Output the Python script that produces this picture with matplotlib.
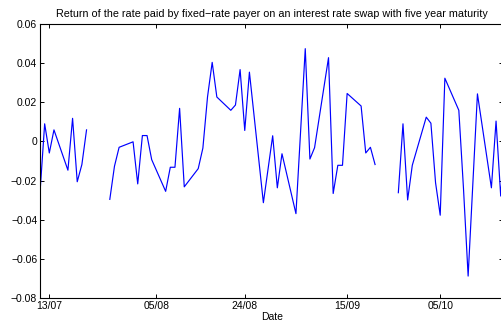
import numpy as np
import pandas as pd
import matplotlib
matplotlib.use('Agg')
import matplotlib.pyplot as plt
import matplotlib.dates as mdates
from matplotlib.ticker import FuncFormatter

plt.rcParams['font.family'] = ['Liberation Sans', 'DejaVu Sans']

# business days 11/07/2006 .. 19/10/2006, nan = missing quote
start_date = '2006-07-11'
end_date = '2006-10-19'
nan = np.nan
returns = [
    -0.0262, 0.0090, -0.0059, 0.0059,
    -0.0147, 0.0118, -0.0206, -0.0118, 0.0059,
    nan, nan, -0.0296, -0.0127, -0.0030,
    -0.0002, -0.0217, 0.0030, 0.0030, -0.0093,
    -0.0255, -0.0132, -0.0132, 0.0169, -0.0232,
    -0.0139, -0.0034, 0.0228, 0.0404, 0.0227,
    0.0159, 0.0186, 0.0367, 0.0056, 0.0354,
    -0.0313, -0.0142, 0.0029, -0.0237, -0.0063,
    -0.0369, 0.0052, 0.0474, -0.0090, -0.0032,
    0.0428, -0.0266, -0.0122, -0.0122, 0.0245,
    0.0181, -0.0059, -0.0030, -0.0118, nan,
    nan, -0.0262, 0.0090, -0.0299, -0.0122,
    0.0124, 0.0093, -0.0211, -0.0377, 0.0323,
    0.0159, -0.0240, -0.0688, -0.0222, 0.0243,
    -0.0237, 0.0104, -0.0279, 0.0040,
]
tick_dates = ['2006-07-13', '2006-08-05', '2006-08-24', '2006-09-15', '2006-10-05']
y_ticks = [-0.08, -0.06, -0.04, -0.02, 0, 0.02, 0.04, 0.06]

dates = pd.bdate_range(start_date, end_date)

fig = plt.figure(figsize=(5.02, 3.29), dpi=100)
ax = fig.add_axes([40 / 502, 31 / 329, 463.5 / 502, 274 / 329])

ax.plot(dates, returns, color='blue', lw=0.85)

x0 = mdates.date2num(dates[0])
ax.set_xlim(x0, x0 + 99.6)
ax.set_ylim(-0.08, 0.06)

ax.set_xticks([mdates.date2num(pd.Timestamp(d)) for d in tick_dates])
ax.xaxis.set_major_formatter(mdates.DateFormatter('%d/%m'))
ax.set_yticks(y_ticks)
ax.yaxis.set_major_formatter(FuncFormatter(lambda v, p: ('%g' % round(v, 4)).replace('-', '\u2212')))

ax.tick_params(direction='in', length=3, width=0.7, top=True, right=True,
               labelsize=7.5, pad=2)
for s in ax.spines.values():
    s.set_linewidth(0.8)

ax.set_xlabel('Date', fontsize=7.5, labelpad=1)
ax.set_title('Return of the rate paid by fixed\u2212rate payer on an interest rate swap with five year maturity',
             fontsize=7.75, pad=5)

fig.savefig('out.png', dpi=100)
